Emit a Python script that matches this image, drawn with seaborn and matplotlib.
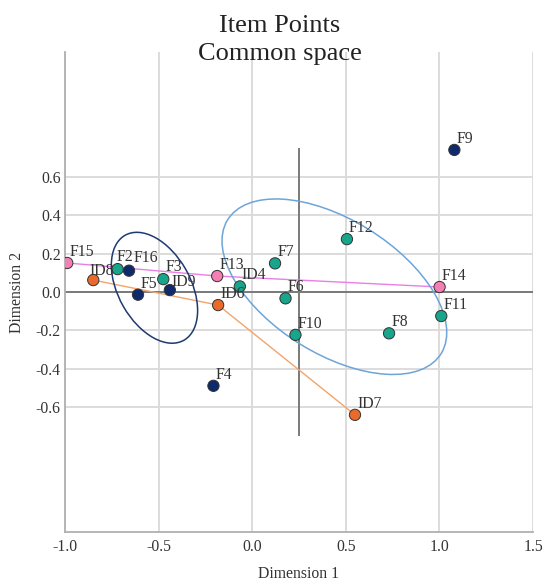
import matplotlib
matplotlib.use("Agg")
import matplotlib.pyplot as plt
from matplotlib.patches import Ellipse
import seaborn as sns
import pandas as pd

# ---- data ----
labels = ["F15", "ID8", "F2", "F16", "F5", "F3", "ID9", "F13", "ID4", "ID6",
          "F12", "F7", "F6", "F14", "F11", "F10", "F8", "F4", "ID7", "F9"]
dim1 = [-0.988, -0.849, -0.719, -0.658, -0.610, -0.475, -0.440, -0.187, -0.066, -0.182,
        0.506, 0.122, 0.178, 1.001, 1.010, 0.231, 0.731, -0.207, 0.549, 1.080]
dim2 = [0.151, 0.062, 0.119, 0.111, -0.014, 0.067, 0.010, 0.083, 0.029, -0.068,
        0.275, 0.149, -0.033, 0.026, -0.125, -0.223, -0.215, -0.488, -0.639, 0.739]
groups = ["pink", "orange", "teal", "navy", "navy", "teal", "navy", "pink", "teal", "orange",
          "teal", "teal", "teal", "pink", "teal", "teal", "teal", "navy", "orange", "navy"]

pink_path = ["F15", "F13", "F14"]
orange_path = ["ID8", "ID6", "ID7"]

# confidence ellipses: centre x, centre y, width, height, angle (deg)
ell_navy = [-0.522, 0.022, 0.63, 0.385, -59.5]
ell_blue = [0.439, 0.0275, 1.336, 0.70, -31.0]

x_ticks = [-1.0, -0.5, 0.0, 0.5, 1.0, 1.5]
y_ticks = [-0.6, -0.4, -0.2, 0.0, 0.2, 0.4, 0.6]
axis_seg = [0.25, -0.75, 0.75]  # vertical reference segment: x, y0, y1

palette = {"pink": "#F47FB4", "orange": "#EA6A2C", "teal": "#17A58C", "navy": "#0E2A6C"}

# label placement (offset in points from the marker)
label_offset = (1.5, 5.0)
label_nudge = {"ID8": (-3.0, 4.0), "F2": (-0.7, 5.5), "F16": (3.0, 6.5),
               "ID9": (1.5, 2.8), "F3": (1.5, 6.0)}

df = pd.DataFrame({"label": labels, "dim1": dim1, "dim2": dim2, "group": groups})

sns.set_style("white")
plt.rcParams["font.family"] = ["Liberation Serif", "DejaVu Serif"]

FS = 11.3

fig = plt.figure(figsize=(5.43, 5.81), dpi=100)
ax = fig.add_axes([65 / 543, 1 - 532.3 / 581, (533 - 65) / 543, (532.3 - 51.7) / 581])

ax.set_xlim(-1.0, 1.5)
ax.set_ylim(-1.25, 1.25)
ax.set_xticks(x_ticks)
ax.set_yticks(y_ticks)
ax.set_xticklabels([f"{t:.1f}" for t in x_ticks])
ax.set_yticklabels([f"{t:.1f}" for t in y_ticks])
ax.grid(True, color="#d9d9d9", lw=1.3, zorder=0)
ax.set_axisbelow(True)
for s in ["top", "right"]:
    ax.spines[s].set_visible(False)
for s in ["left", "bottom"]:
    ax.spines[s].set_color("#b0b0b0")
    ax.spines[s].set_linewidth(1.3)
ax.tick_params(axis="both", length=0, labelsize=FS, colors="#333333")
ax.tick_params(axis="x", pad=5)
ax.tick_params(axis="y", pad=3)

ax.axhline(0, color="#7a7a7a", lw=1.4, zorder=1)
ax.vlines(axis_seg[0], axis_seg[1], axis_seg[2], color="#7a7a7a", lw=1.4, zorder=1)

# connecting lines
pdf = df.set_index("label")
sns.lineplot(data=pdf.loc[pink_path], x="dim1", y="dim2", color="#E97FE6", lw=1.0,
             estimator=None, sort=False, ax=ax, zorder=2)
sns.lineplot(data=pdf.loc[orange_path], x="dim1", y="dim2", color="#F2A46A", lw=1.0,
             estimator=None, sort=False, ax=ax, zorder=2)

# ellipses
for e, col in [(ell_navy, "#1D3A72"), (ell_blue, "#6DA5D8")]:
    ax.add_patch(Ellipse((e[0], e[1]), e[2], e[3], angle=e[4], fill=False,
                         edgecolor=col, lw=1.1, zorder=2))

sns.scatterplot(data=df, x="dim1", y="dim2", hue="group", palette=palette, s=66,
                edgecolor="#333333", linewidth=0.7, legend=False, ax=ax, zorder=3)

for lab, x, y in zip(labels, dim1, dim2):
    off = label_nudge.get(lab, label_offset)
    ax.annotate(lab, (x, y), xytext=off, textcoords="offset points",
                ha="left", va="baseline", fontsize=FS, color="#333333", zorder=4)

ax.set_xlabel("Dimension 1", fontsize=FS, color="#333333", labelpad=8)
ax.set_ylabel("Dimension 2", fontsize=FS, color="#333333", labelpad=8)

fig.text(280 / 543, 1 - 31.7 / 581, "Item Points", ha="center", va="baseline",
         fontsize=19, color="#222222")
fig.text(280 / 543, 1 - 60 / 581, "Common space", ha="center", va="baseline",
         fontsize=19, color="#222222")

fig.savefig("out.png", dpi=100)
